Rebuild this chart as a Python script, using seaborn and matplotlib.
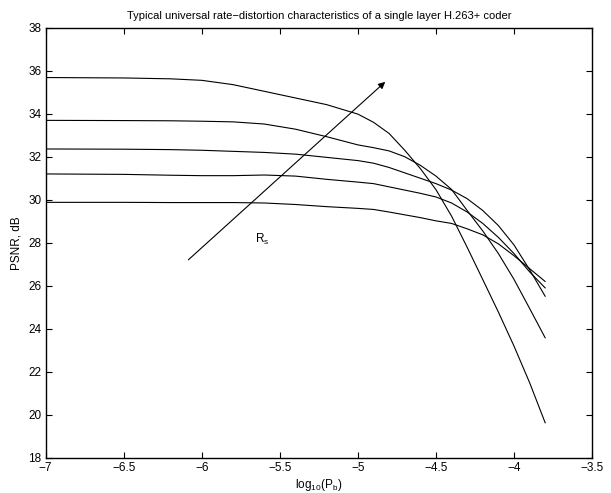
import numpy as np
import pandas as pd
import matplotlib
matplotlib.use('Agg')
import matplotlib.pyplot as plt
import seaborn as sns

log_pb = [-7, -6.5, -6.2, -6, -5.8, -5.6, -5.4, -5.2, -5.0, -4.9, -4.8,
          -4.7, -4.6, -4.5, -4.4, -4.3, -4.2, -4.1, -4.0, -3.9, -3.8]

psnr_1 = [35.68, 35.66, 35.62, 35.55, 35.35, 35.04, 34.73, 34.42, 33.98, 33.6, 33.08,
          32.3, 31.45, 30.47, 29.24, 27.79, 26.29, 24.78, 23.2, 21.5, 19.63]
psnr_2 = [33.69, 33.68, 33.67, 33.65, 33.62, 33.52, 33.28, 32.93, 32.55, 32.42, 32.27,
          32.0, 31.6, 31.1, 30.48, 29.5, 28.55, 27.5, 26.3, 24.95, 23.58]
psnr_3 = [32.36, 32.35, 32.33, 32.3, 32.25, 32.2, 32.12, 31.97, 31.82, 31.7, 31.5,
          31.25, 31.0, 30.75, 30.45, 30.05, 29.5, 28.8, 27.9, 26.75, 25.51]
psnr_4 = [31.2, 31.18, 31.14, 31.12, 31.12, 31.15, 31.1, 30.95, 30.82, 30.75, 30.6,
          30.45, 30.3, 30.13, 29.85, 29.43, 28.9, 28.25, 27.5, 26.65, 25.9]
psnr_5 = [29.88, 29.88, 29.87, 29.87, 29.87, 29.85, 29.78, 29.68, 29.6, 29.55, 29.43,
          29.3, 29.17, 29.02, 28.9, 28.65, 28.37, 27.95, 27.4, 26.8, 26.2]

curves = [psnr_1, psnr_2, psnr_3, psnr_4, psnr_5]

xticks = [-7, -6.5, -6, -5.5, -5, -4.5, -4, -3.5]
xtick_labels = ['\u22127', '\u22126.5', '\u22126', '\u22125.5', '\u22125',
                '\u22124.5', '\u22124', '\u22123.5']
yticks = list(range(18, 39, 2))

arrow_start = (-6.086, 27.21)
arrow_end = (-4.825, 35.48)
label_pos = (-5.615, 28.14)

sns.set_style('ticks')
plt.rcParams['font.family'] = ['Liberation Sans', 'DejaVu Sans']
plt.rcParams['mathtext.fontset'] = 'custom'
plt.rcParams['mathtext.rm'] = 'Liberation Sans'
plt.rcParams['mathtext.it'] = 'Liberation Sans'
plt.rcParams['text.color'] = 'black'
plt.rcParams['axes.labelcolor'] = 'black'
plt.rcParams['xtick.color'] = 'black'
plt.rcParams['ytick.color'] = 'black'
plt.rcParams['axes.edgecolor'] = 'black'

fig, ax = plt.subplots(figsize=(6.11, 4.93), dpi=100)
fig.subplots_adjust(left=0.0748, right=0.969, top=0.944, bottom=0.071)

for c in curves:
    df = pd.DataFrame({'x': log_pb, 'y': c})
    sns.lineplot(data=df, x='x', y='y', ax=ax, color='black', linewidth=0.8,
                 estimator=None, sort=False)

ax.annotate('', xy=arrow_end, xytext=arrow_start,
            arrowprops=dict(arrowstyle='-|>', color='black', lw=0.8,
                            mutation_scale=10, shrinkA=0, shrinkB=0))
ax.text(label_pos[0], label_pos[1], r'R$_\mathregular{s}$', fontsize=8.5,
        ha='center', va='center')

ax.set_xlim(-7, -3.5)
ax.set_ylim(18, 38)
ax.set_xticks(xticks)
ax.set_xticklabels(xtick_labels)
ax.set_yticks(yticks)
ax.tick_params(direction='in', top=True, right=True, length=4, width=0.8,
               labelsize=8.5, pad=3)
for s in ax.spines.values():
    s.set_linewidth(1.0)
    s.set_visible(True)

ax.set_xlabel(r'log$_\mathregular{10}$(P$_\mathregular{b}$)', fontsize=8.5, labelpad=2)
ax.set_ylabel('PSNR, dB', fontsize=8.5, labelpad=4)
ax.set_title('Typical universal rate\u2212distortion characteristics of a single layer H.263+ coder',
             fontsize=8, pad=6)

fig.savefig('out.png', dpi=100)
